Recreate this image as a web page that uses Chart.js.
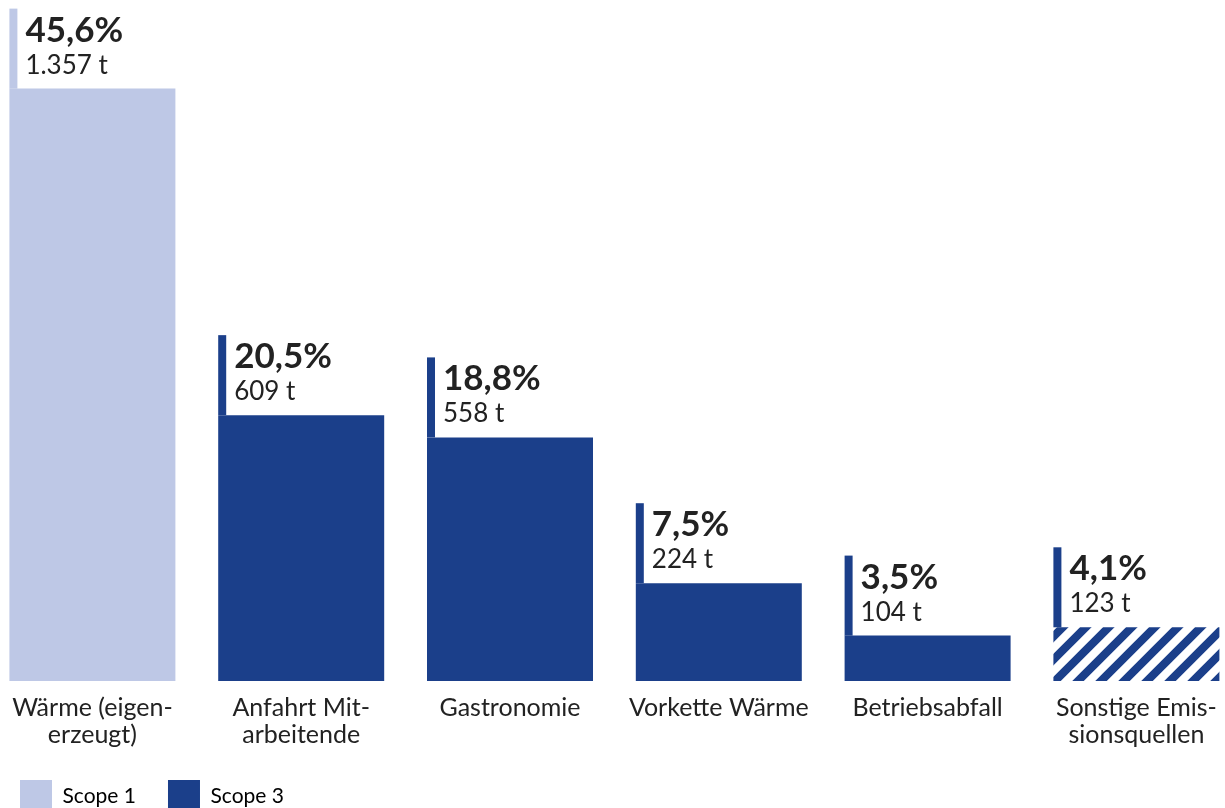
<!DOCTYPE html>
<html>
<head>
<meta charset="utf-8">
<script src="https://cdn.jsdelivr.net/npm/chart.js@4"></script>
<style>
    html, body { margin: 0; padding: 0; background: #fff; overflow: hidden; }
    #wrap { position: absolute; left: -12.4px; top: 0; width: 1252.8px; height: 822px; }
</style>
</head>
<body>
<div id="wrap"><canvas id="chart1"></canvas></div>
<script>
// data
const categories = [
    ["Wärme (eigen-", "erzeugt)"],
    ["Anfahrt Mit-", "arbeitende"],
    ["Gastronomie"],
    ["Vorkette Wärme"],
    ["Betriebsabfall"],
    ["Sonstige Emis-", "sionsquellen"]
];
const tonnes = [1357, 609, 558, 224, 104, 123];
const shares = ["45,6%", "20,5%", "18,8%", "7,5%", "3,5%", "4,1%"];
const amountLabels = ["1.357 t", "609 t", "558 t", "224 t", "104 t", "123 t"];
const scopes = ["Scope 1", "Scope 3", "Scope 3", "Scope 3", "Scope 3", "hatch"];
const legendNames = ["Scope 1", "Scope 3"];

const light = "#bec8e6";
const dark = "#1b3f8a";
const textColor = "#222222";
const fontName = "Lato, 'Noto Sans', sans-serif";

// striped fill for the last bar
function makeHatch() {
    const s = 23;
    const c = document.createElement("canvas");
    c.width = s; c.height = s;
    const g = c.getContext("2d");
    g.fillStyle = "#fff";
    g.fillRect(0, 0, s, s);
    g.strokeStyle = dark;
    g.lineWidth = 8.2;
    g.beginPath();
    g.moveTo(-s / 2, s / 2); g.lineTo(s / 2, -s / 2);
    g.moveTo(0, s); g.lineTo(s, 0);
    g.moveTo(s / 2, s * 1.5); g.lineTo(s * 1.5, s / 2);
    g.stroke();
    return g.createPattern(c, "repeat");
}
const hatch = makeHatch();

const barColors = scopes.map(function (s) {
    if (s === "Scope 1") return light;
    if (s === "hatch") return hatch;
    return dark;
});

// stripe + value text above each bar
const topLabels = {
    id: "topLabels",
    afterDatasetsDraw(chart) {
        const ctx = chart.ctx;
        const meta = chart.getDatasetMeta(0);
        meta.data.forEach(function (bar, i) {
            const left = bar.x - bar.width / 2;
            const top = bar.y - 80;
            ctx.save();
            ctx.fillStyle = scopes[i] === "Scope 1" ? light : dark;
            ctx.fillRect(left, top, 8, 80);
            ctx.fillStyle = textColor;
            ctx.textAlign = "left";
            ctx.textBaseline = "alphabetic";
            ctx.font = "bold 35px " + fontName;
            ctx.fillText(shares[i], left + 16, top + 33);
            ctx.font = "26px " + fontName;
            ctx.fillText(amountLabels[i], left + 16, top + 65);
            ctx.restore();
        });
    }
};

const chart1 = document.getElementById("chart1");
let barChart = new Chart(chart1, {
    type: "bar",
    data: {
        labels: categories,
        datasets: [
            {
                data: tonnes,
                backgroundColor: barColors,
                borderWidth: 0,
                barPercentage: 0.795,
                categoryPercentage: 1
            }
        ]
    },
    options: {
        responsive: true,
        maintainAspectRatio: false,
        animation: false,
        layout: { padding: 0 },
        scales: {
            x: {
                grid: { display: false },
                border: { display: false },
                ticks: {
                    color: textColor,
                    padding: 5,
                    font: { family: fontName, size: 25, lineHeight: "27px" }
                },
                afterFit: function (s) { s.height = 67; }
            },
            y: {
                display: false,
                min: 0,
                max: 1560
            }
        },
        plugins: {
            tooltip: { enabled: false },
            legend: {
                position: "bottom",
                align: "start",
                labels: {
                    boxWidth: 32,
                    boxHeight: 32,
                    padding: 32,
                    color: textColor,
                    font: { family: fontName, size: 21 },
                    generateLabels: function () {
                        return legendNames.map(function (n, i) {
                            const col = i === 0 ? light : dark;
                            return { text: n, fillStyle: col, strokeStyle: col, lineWidth: 0, hidden: false, datasetIndex: 0 };
                        });
                    }
                },
                onClick: function () {}
            }
        }
    },
    plugins: [topLabels]
});
</script>
</body>
</html>
